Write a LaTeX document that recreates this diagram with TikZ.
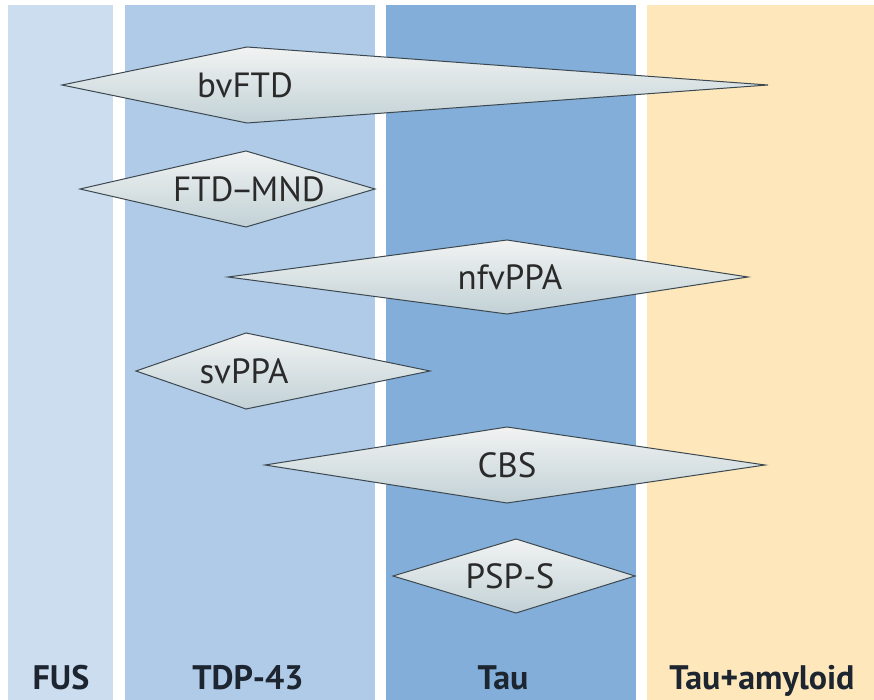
\documentclass[tikz,border=0pt]{standalone}
\usepackage{fontspec}
\setmainfont{PT Sans}
\usetikzlibrary{shadings}
\definecolor{cfus}{HTML}{CCDDF0}
\definecolor{ctdp}{HTML}{B0CBE8}
\definecolor{ctau}{HTML}{82AED9}
\definecolor{camy}{HTML}{FEE8BB}
\definecolor{dtop}{HTML}{F1F3F2}
\definecolor{dbot}{HTML}{C2D1D6}
\definecolor{dline}{HTML}{3C4850}
\definecolor{txt}{HTML}{2A2A2A}
\definecolor{lbl}{HTML}{1C2530}
\tikzset{
  colbox/.style={draw=none},
  diapoly/.style={draw=dline, line width=1pt, line join=miter, top color=dtop, bottom color=dbot},
  dialabel/.style={text=txt, inner sep=0pt, font=\fontsize{35}{36}\selectfont},
  collabel/.style={text=lbl, inner sep=0pt, anchor=base, font=\fontsize{34}{36}\selectfont\bfseries},
}
% \mydia{name}{left x}{vertex x}{right x}{mid y}{half height}
\newcommand{\mydia}[6]{%
  \coordinate (#1-l) at (#2,#5);
  \coordinate (#1-t) at (#3,#5-#6);
  \coordinate (#1-r) at (#4,#5);
  \coordinate (#1-b) at (#3,#5+#6);
  \path[diapoly] (#1-l) -- (#1-t) -- (#1-r) -- (#1-b) -- cycle;
}
\begin{document}
\begin{tikzpicture}[x=1pt,y=-1pt]
\useasboundingbox (0,0) rectangle (874,700);
\fill[white] (0,0) rectangle (874,700);
% columns
\fill[cfus] (8,5) rectangle (113,700);
\fill[ctdp] (125,5) rectangle (375,700);
\fill[ctau] (386,5) rectangle (636,700);
\fill[camy] (647,5) rectangle (874,700);
% diamonds
\mydia{bv}{62}{247}{768}{85}{38}
\node[dialabel] (bvFTD) at (245,85) {bvFTD};
\mydia{mnd}{80}{246}{375}{189}{38}
\node[dialabel] (FTDMND) at (249,189) {FTD\kern-3pt–\kern-3pt MND};
\mydia{nfv}{228}{507}{748}{277}{37}
\node[dialabel] (nfvPPA) at (510,277) {nfvPPA};
\mydia{sv}{136}{246}{430}{371}{38}
\node[dialabel] (svPPA) at (244,371) {svPPA};
\mydia{cbs}{265}{507}{765}{465}{38}
\node[dialabel] (CBS) at (507,465) {CBS};
\mydia{psp}{393}{516}{635}{576}{37}
\node[dialabel] (PSPS) at (510,576) {PSP-S};
% column labels
\node[collabel] (FUS) at (61,689) {FUS};
\node[collabel] (TDP) at (248,689) {TDP-43};
\node[collabel] (Tau) at (503,689) {Tau};
\node[collabel] (TauAmy) at (762,689) {Tau+amyloid};
\end{tikzpicture}
\end{document}
